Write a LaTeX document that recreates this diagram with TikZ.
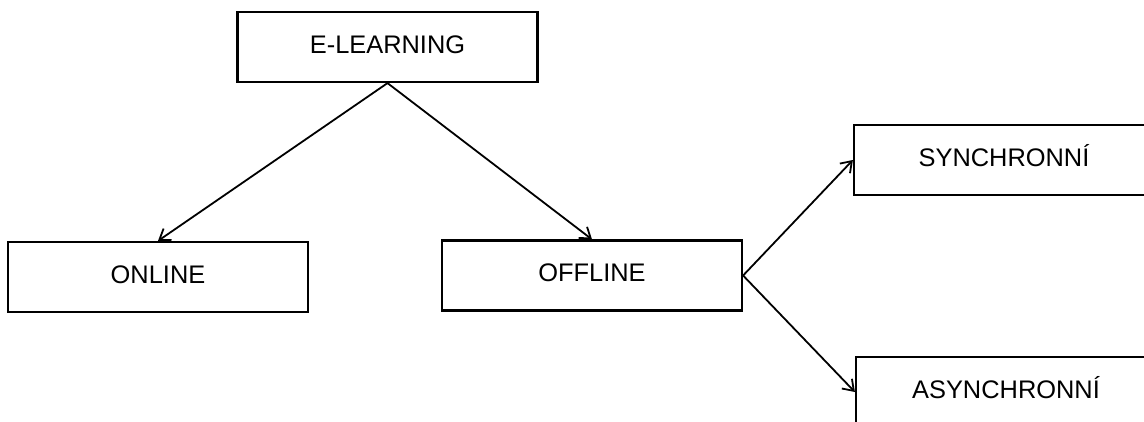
\documentclass[tikz,border=0pt]{standalone}
\usepackage{fontspec}
\setmainfont{Liberation Sans}
\usetikzlibrary{arrows.meta}
\begin{document}
\begin{tikzpicture}[x=1pt,y=-1pt,
  box/.style={draw=black,line width=2.2pt,rectangle,minimum width=300pt,minimum height=70pt,
    inner sep=0pt,text height=18pt,text depth=6pt,font=\fontsize{25.4}{30}\selectfont},
  conn/.style={draw=black,line width=1.8pt,-{Straight Barb[length=10pt,width=14pt,line width=1.8pt]}}]
\useasboundingbox (0,0) rectangle (1144,421);
\clip (0,0) rectangle (1144,421);
\fill[white] (0,0) rectangle (1144,421);
\node[box] (el) at (387.5,47) {E-LEARNING};
\node[box] (on) at (158,277) {ONLINE};
\node[box] (off) at (592,275.5) {OFFLINE};
\node[box] (syn) at (1004,160) {SYNCHRONNÍ};
\node[box] (asy) at (1006,392) {ASYNCHRONNÍ};
\draw[conn] (el.south) -- (on.north);
\draw[conn] (el.south) -- (off.north);
\draw[conn] (off.east) -- (syn.west);
\draw[conn] (off.east) -- (asy.west);
\end{tikzpicture}
\end{document}
